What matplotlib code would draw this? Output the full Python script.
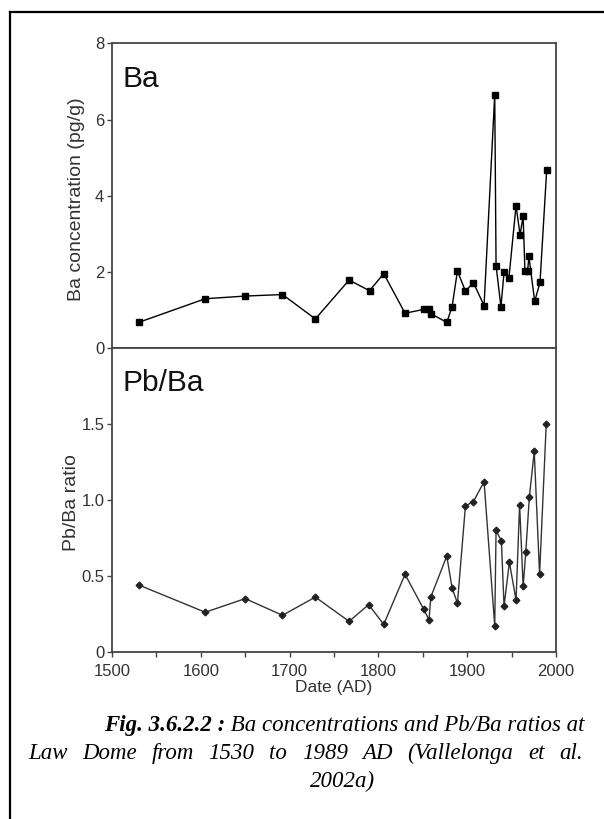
import matplotlib
matplotlib.use("Agg")
from matplotlib import pyplot as plt
from matplotlib.lines import Line2D
from matplotlib.ticker import MultipleLocator, FixedLocator

# Ba concentration (pg/g)
years_ba = [1530, 1605, 1650, 1692, 1729, 1767, 1790, 1806, 1830, 1851,
            1857, 1859, 1877, 1883, 1889, 1898, 1907, 1919, 1931, 1932.5,
            1938, 1941.5, 1947, 1955, 1959.5, 1963, 1965, 1968, 1969.5,
            1976, 1982, 1989.5]
ba = [0.68, 1.30, 1.37, 1.41, 0.77, 1.79, 1.51, 1.96, 0.92, 1.02,
      1.02, 0.91, 0.68, 1.09, 2.03, 1.50, 1.72, 1.12, 6.65, 2.17,
      1.09, 2.00, 1.85, 3.74, 2.98, 3.46, 2.03, 2.03, 2.41,
      1.23, 1.73, 4.67]

# Pb/Ba ratio
years_pb = [1530, 1605, 1650, 1692, 1729, 1767, 1789, 1806, 1830, 1851,
            1857, 1859, 1877, 1883, 1889, 1898, 1907, 1919, 1931, 1932.5,
            1938.5, 1941.5, 1947.5, 1955, 1959, 1963, 1966, 1970, 1975.5,
            1981.5, 1989]
pb_ba = [0.44, 0.26, 0.35, 0.24, 0.36, 0.20, 0.31, 0.18, 0.51, 0.28,
         0.21, 0.36, 0.63, 0.42, 0.32, 0.96, 0.99, 1.12, 0.17, 0.80,
         0.73, 0.30, 0.59, 0.34, 0.97, 0.43, 0.66, 1.02, 1.32,
         0.51, 1.50]

ba_ticks = [0, 2, 4, 6, 8]
ratio_ticks = [0, 0.5, 1.0, 1.5]
ratio_labels = ['0', '0.5', '1.0', '1.5']
year_ticks = [1500, 1600, 1700, 1800, 1900, 2000]

plt.rcParams['font.family'] = ['Liberation Sans', 'DejaVu Sans']
frame_col = '#444444'
text_col = '#333333'

fig = plt.figure(figsize=(6.04, 8.19), dpi=100)
L, R = 112 / 604, 556 / 604
ax1 = fig.add_axes([L, 1 - 348.3 / 819, R - L, 305 / 819])
ax2 = fig.add_axes([L, 1 - 651.7 / 819, R - L, 303.4 / 819], sharex=ax1)

ax1.plot(years_ba, ba, color='black', lw=1.0, marker='s', ms=4.6,
         mfc='black', mec='black')
ax2.plot(years_pb, pb_ba, color='#333333', lw=1.0, marker='D', ms=3.4,
         mfc='#222222', mec='#222222')

ax1.set_xlim(1500, 2000)
ax1.set_ylim(0, 8)
ax2.set_ylim(0, 2)

ax1.yaxis.set_major_locator(FixedLocator(ba_ticks))
ax2.yaxis.set_major_locator(FixedLocator(ratio_ticks))
ax2.set_yticklabels(ratio_labels)
ax2.xaxis.set_major_locator(FixedLocator(year_ticks))
ax2.xaxis.set_minor_locator(MultipleLocator(50))

for ax in (ax1, ax2):
    for s in ax.spines.values():
        s.set_color(frame_col)
        s.set_linewidth(1.3)
    ax.tick_params(axis='y', direction='out', length=3.5, width=1,
                   color=frame_col, labelsize=12, labelcolor=text_col, pad=2)
ax1.tick_params(axis='x', which='both', bottom=False, labelbottom=False)
ax2.tick_params(axis='x', which='both', direction='out', length=3.5,
                width=1, color=frame_col, labelsize=12, labelcolor=text_col,
                pad=5)

ax1.set_ylabel('Ba concentration (pg/g)', fontsize=14, color=text_col)
ax2.set_ylabel('Pb/Ba ratio', fontsize=14, color=text_col)
ax1.yaxis.set_label_coords(-0.06, 0.49)
ax2.yaxis.set_label_coords(-0.072, 0.49)
ax2.set_xlabel('Date (AD)', fontsize=12.5, color=text_col, labelpad=1)

ax1.text(0.024, 0.857, 'Ba', transform=ax1.transAxes, fontsize=21.5,
         va='baseline', ha='left', color='#111111')
ax2.text(0.024, 0.859, 'Pb/Ba', transform=ax2.transAxes, fontsize=21.5,
         va='baseline', ha='left', color='#111111')

# page frame lines around the figure
fig.add_artist(Line2D([10 / 604, 10 / 604], [0, 1 - 12 / 819],
                      color='black', lw=1.6, transform=fig.transFigure))
fig.add_artist(Line2D([10 / 604, 1], [1 - 12 / 819, 1 - 12 / 819],
                      color='black', lw=1.6, transform=fig.transFigure))

# caption: first line indented, second line justified, last line centred
cap_font = dict(family=['Liberation Serif', 'DejaVu Serif'], style='italic',
                fontsize=16.5, color='black')
r = fig.canvas.get_renderer()
W = fig.bbox.width

t1 = fig.text(104 / 604, 1 - 731 / 819, 'Fig. 3.6.2.2 :', weight='bold',
              va='baseline', ha='left', **cap_font)
w1 = t1.get_window_extent(r).width / W
fig.text(104 / 604 + w1, 1 - 731 / 819,
         ' Ba concentrations and Pb/Ba ratios at',
         va='baseline', ha='left', **cap_font)

words = 'Law Dome from 1530 to 1989 AD (Vallelonga et al.'.split()
x_left, x_right = 28 / 604, 583 / 604
word_texts = [fig.text(0, 1 - 759 / 819, w, va='baseline', ha='left',
                       **cap_font) for w in words]
widths = [t.get_window_extent(r).width / W for t in word_texts]
gap = (x_right - x_left - sum(widths)) / (len(words) - 1)
x = x_left
for t, w in zip(word_texts, widths):
    t.set_x(x)
    x += w + gap

fig.text(343 / 604, 1 - 787 / 819, '2002a)', va='baseline', ha='center',
         **cap_font)

fig.savefig('out.png', dpi=100)
